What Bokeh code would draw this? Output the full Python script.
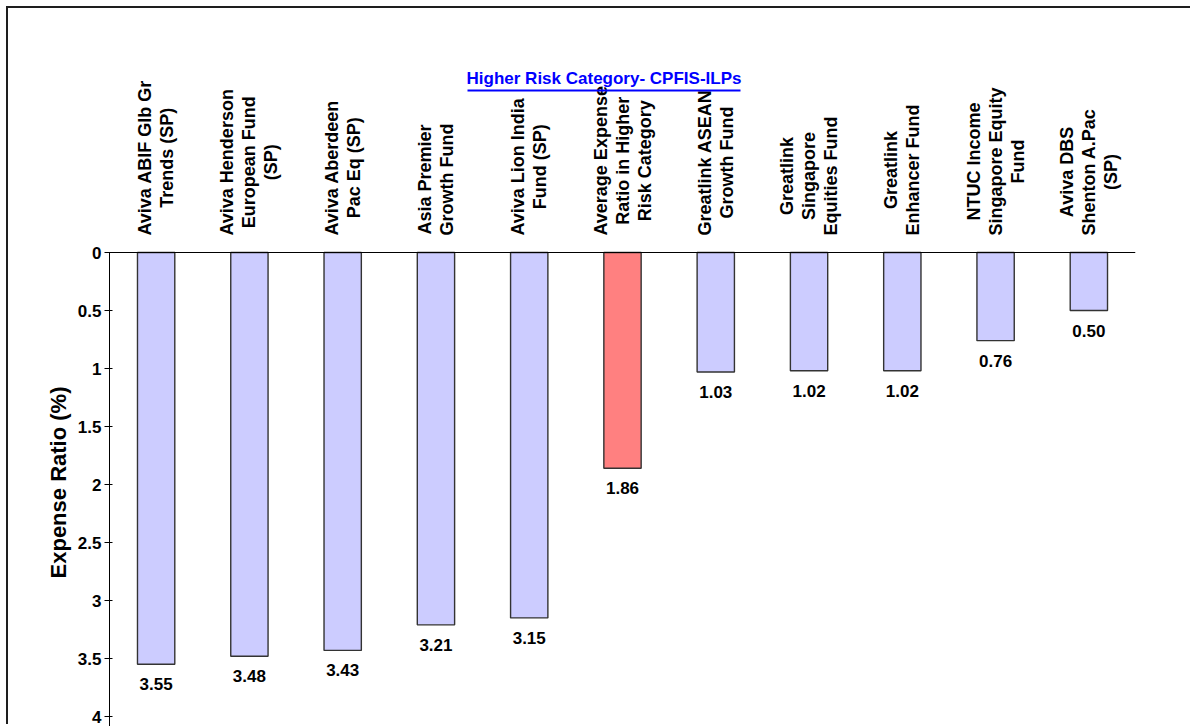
from math import pi
from bokeh.plotting import figure
from bokeh.layouts import column
from bokeh.models import FactorRange, Range1d, Span, FixedTicker
from bokeh.core.properties import value
from bokeh.embed import file_html
from bokeh.resources import INLINE

# ---------------- data ----------------
categories = [
    "Aviva ABIF Glb Gr\nTrends (SP)",
    "Aviva Henderson\nEuropean Fund\n(SP)",
    "Aviva Aberdeen\nPac Eq (SP)",
    "Asia Premier\nGrowth Fund",
    "Aviva Lion India\nFund (SP)",
    "Average Expense\nRatio in Higher\nRisk Category",
    "Greatlink ASEAN\nGrowth Fund",
    "Greatlink\nSingapore\nEquities Fund",
    "Greatlink\nEnhancer Fund",
    "NTUC Income\nSingapore Equity\nFund",
    "Aviva DBS\nShenton A.Pac\n(SP)",
]
expense_ratio = [3.55, 3.48, 3.43, 3.21, 3.15, 1.86, 1.03, 1.02, 1.02, 0.76, 0.50]
y_ticks = [0, 0.5, 1, 1.5, 2, 2.5, 3, 3.5, 4]
y_tick_labels = ["0", "0.5", "1", "1.5", "2", "2.5", "3", "3.5", "4"]
chart_title = "Higher Risk Category- CPFIS-ILPs"
y_title = "Expense Ratio (%)"

# ---------------- layout (screen pixels) ----------------
OFF = 8                      # page offset of the chart box
W = 1192 - OFF
TOTAL_H = 726 - OFF
PX_PER_UNIT = 116.0          # pixels per 1% on the value axis
ZERO_SCREEN = 252.0          # screen row of value 0
SPLIT_SCREEN = 238.0         # screen row where the label band ends
FRAME_LEFT = 109 - OFF
FRAME_RIGHT = W - (1135 - OFF)
cat_px = (W - FRAME_LEFT - FRAME_RIGHT) / len(categories)

top_h = int(SPLIT_SCREEN - OFF)
bot_h = TOTAL_H - top_h


def to_val(screen_y):
    return (screen_y - ZERO_SCREEN) / PX_PER_UNIT


FONT = value("Liberation Sans")
x_range = FactorRange(*categories)

# ---------------- label band (title + category names) ----------------
top = figure(
    width=W, height=top_h, x_range=x_range,
    y_range=Range1d(start=to_val(SPLIT_SCREEN), end=to_val(OFF)),
    output_backend="svg", toolbar_location=None, title=None,
    min_border_left=FRAME_LEFT, min_border_right=FRAME_RIGHT,
    min_border_top=0, min_border_bottom=0, outline_line_color=None,
)
top.axis.visible = False
top.grid.visible = False

top.text(x=categories, y=[to_val(235)] * len(categories), text=categories,
         angle=pi / 2, text_align="center", anchor="center_left",
         text_baseline="middle", text_font=FONT, text_font_style="bold",
         text_font_size="18px", text_line_height=1.1, text_color="black")

title_x = (603.5 - 109) / cat_px
half_w = 136.5 / cat_px
top.text(x=[title_x], y=[to_val(78)], text=[chart_title], text_align="center",
         text_baseline="alphabetic", text_font=FONT, text_font_style="bold",
         text_font_size="17px", text_color="#0000FF")
top.segment(x0=[title_x - half_w], x1=[title_x + half_w],
            y0=[to_val(90)], y1=[to_val(90)],
            line_color="#0000FF", line_width=1.8)

# ---------------- bar chart ----------------
y_bottom = to_val(OFF + TOTAL_H)
p = figure(
    width=W, height=bot_h, x_range=x_range,
    y_range=Range1d(start=y_bottom, end=to_val(SPLIT_SCREEN)),
    output_backend="svg", toolbar_location=None, title=None,
    min_border_left=FRAME_LEFT, min_border_right=FRAME_RIGHT,
    min_border_top=0, min_border_bottom=0, outline_line_color=None,
)
p.xaxis.visible = False
p.grid.visible = False

bar_colors = ["#FF8080" if c.startswith("Average") else "#CCCCFF" for c in categories]
value_text = [f"{v:.2f}" for v in expense_ratio]

p.vbar(x=categories, top=expense_ratio, bottom=0, width=0.4,
       fill_color=bar_colors, line_color="#333333", line_width=1.4)

p.add_layout(Span(location=0, dimension="width", line_color="black", line_width=1))

p.text(x=categories, y=[v + 20 / PX_PER_UNIT for v in expense_ratio], text=value_text,
       text_align="center", text_baseline="middle", text_font=FONT,
       text_font_style="bold", text_font_size="17px", text_color="black")

ax = p.yaxis[0]
ax.ticker = FixedTicker(ticks=y_ticks)
ax.major_label_overrides = dict(zip(y_ticks, y_tick_labels))
ax.bounds = (0, y_bottom)
ax.axis_label = y_title
ax.axis_label_text_font = "Liberation Sans"
ax.axis_label_text_font_style = "bold"
ax.axis_label_text_font_size = "22px"
ax.axis_label_text_color = "black"
ax.axis_label_standoff = 4
ax.major_label_text_font = "Liberation Sans"
ax.major_label_text_font_style = "bold"
ax.major_label_text_font_size = "17px"
ax.major_label_text_color = "black"
ax.major_label_standoff = 3
ax.major_tick_out = 5
ax.major_tick_in = 3
ax.minor_tick_out = 0
ax.minor_tick_in = 0
ax.axis_line_color = "black"
ax.major_tick_line_color = "black"

layout = column(top, p, spacing=0, margin=(OFF, 0, 0, OFF),
                styles={"box-shadow": "-2px -2px 0 0 #1e1e1e"})

open("out.html", "w").write(file_html(layout, INLINE))
